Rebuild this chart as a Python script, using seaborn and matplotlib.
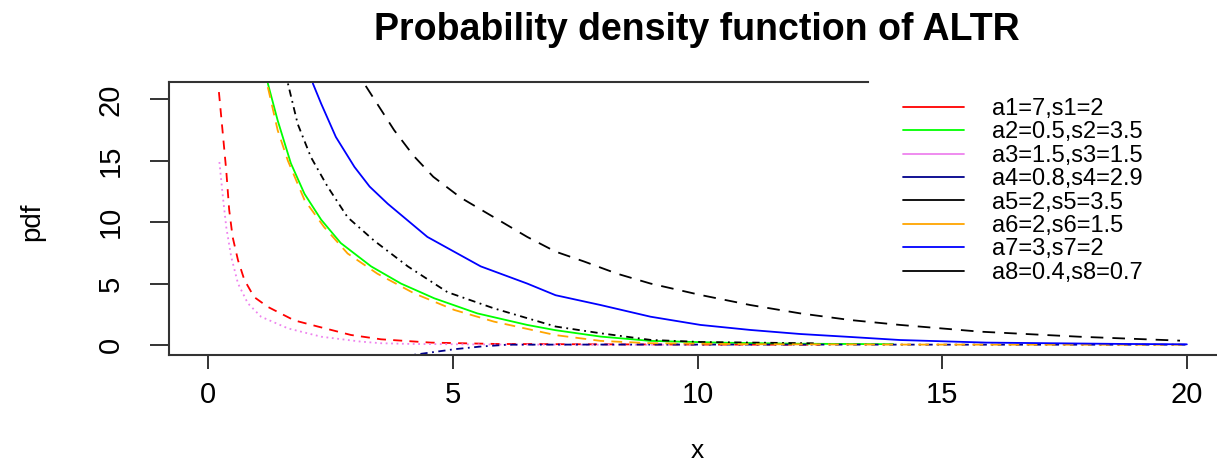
import numpy as np
import matplotlib
matplotlib.use("Agg")
import matplotlib.pyplot as plt
from matplotlib.lines import Line2D
import seaborn as sns

# values
x1 = [0.22, 0.30, 0.37, 0.43, 0.50, 0.61, 0.74, 0.94, 1.22, 1.76, 2.24, 2.92, 3.53, 4.55, 5.9, 8.0, 10.0, 12.5]
y1 = [20.6, 17.2, 14.2, 11.0, 8.8, 6.9, 5.3, 3.9, 3.1, 2.0, 1.5, 0.81, 0.46, 0.19, 0.08, 0.05, 0.03, 0.02]

x2 = [1.22, 1.42, 1.69, 1.97, 2.31, 2.71, 3.33, 3.94, 4.62, 5.50, 6.52, 7.1, 8.02, 9.04, 10.4, 12.0, 14.0]
y2 = [21.3, 18.3, 14.8, 12.3, 10.2, 8.3, 6.4, 5.0, 3.8, 2.57, 1.63, 1.2, 0.68, 0.33, 0.19, 0.1, 0.06]

x3 = [0.23, 0.30, 0.37, 0.47, 0.61, 0.81, 1.08, 1.63, 2.31, 3.12, 3.53, 4.14, 6.0, 8.0, 10.0]
y3 = [14.9, 12.1, 9.6, 7.2, 5.0, 3.4, 2.3, 1.35, 0.67, 0.27, 0.14, 0.08, 0.03, 0.02, 0.01]

x4 = [4.21, 5.03, 5.57, 6.12, 8.0, 12.0, 16.0, 20.0]
y4 = [-0.8, -0.35, -0.13, 0.02, 0.03, 0.03, 0.02, 0.02]

x5 = [1.63, 1.83, 2.10, 2.44, 2.85, 3.39, 4.08, 4.89, 5.84, 7.1, 8.02, 9.04, 10.06, 12.45]
y5 = [21.3, 18.0, 15.3, 12.9, 10.4, 8.5, 6.4, 4.3, 2.98, 1.5, 0.95, 0.41, 0.24, 0.13]

x6 = [1.22, 1.42, 1.63, 1.97, 2.37, 2.85, 3.46, 4.21, 5.03, 5.84, 7.1, 8.02, 9.04, 11.0, 14.0, 17.0, 20.0]
y6 = [21.0, 17.5, 15.0, 11.8, 9.6, 7.45, 5.8, 4.2, 2.85, 1.9, 0.8, 0.33, 0.14, 0.06, 0.03, 0.02, 0.02]

x7 = [2.14, 2.31, 2.61, 2.99, 3.30, 3.67, 4.48, 5.57, 6.52, 7.1, 8.02, 9.04, 10.06, 11.08, 12.1, 13.12, 14.14, 15.9, 18.7, 20.0]
y7 = [21.3, 19.65, 16.94, 14.5, 12.9, 11.5, 8.8, 6.4, 5.0, 4.05, 3.25, 2.3, 1.63, 1.22, 0.89, 0.65, 0.4, 0.19, 0.08, 0.05]

x8 = [3.22, 3.80, 4.20, 4.60, 5.16, 5.84, 6.52, 7.1, 7.68, 8.36, 9.04, 10.06, 11.08, 12.1, 13.12, 14.14, 15.78, 17.8, 19.86]
y8 = [21.1, 17.5, 15.4, 13.7, 12.0, 10.4, 8.8, 7.6, 6.8, 5.8, 5.0, 4.07, 3.25, 2.57, 2.03, 1.63, 1.08, 0.67, 0.35]

labels = ["a1=7,s1=2", "a2=0.5,s2=3.5", "a3=1.5,s3=1.5", "a4=0.8,s4=2.9",
          "a5=2,s5=3.5", "a6=2,s6=1.5", "a7=3,s7=2", "a8=0.4,s8=0.7"]
colors = ["red", "#00ff00", "violet", "#00008b", "black", "orange", "blue", "black"]
styles = [(0, (5, 4)), "-", (0, (1, 2)), (0, (1, 2.5, 4, 2.5)),
          (0, (1, 2.5, 4, 2.5)), (0, (6, 4)), "-", (0, (7, 5))]

xs = [x1, x2, x3, x4, x5, x6, x7, x8]
ys = [y1, y2, y3, y4, y5, y6, y7, y8]

sns.set_style("ticks")
plt.rcParams["font.family"] = ["Liberation Sans", "DejaVu Sans"]
plt.rcParams["text.color"] = "black"
plt.rcParams["xtick.labelcolor"] = "black"
plt.rcParams["ytick.labelcolor"] = "black"
plt.rcParams["axes.labelcolor"] = "black"

W, H = 1217, 465
fig = plt.figure(figsize=(W / 100, H / 100), dpi=100)
ax = fig.add_axes([169 / W, 110 / H, (1226 - 169) / W, (355 - 82) / H])

for xv, yv, c, ls in zip(xs, ys, colors, styles):
    sns.lineplot(x=np.array(xv), y=np.array(yv), color=c, linestyle=ls,
                 linewidth=1.3, estimator=None, ax=ax)

ax.set_xlim(-0.8, 20.8)
ax.set_ylim(-0.82, 21.42)
ax.set_xticks([0, 5, 10, 15, 20])
ax.set_yticks([0, 5, 10, 15, 20])

for s in ax.spines.values():
    s.set_color("#333333")
    s.set_linewidth(1.5)
# legend sits over the top border on the right
ax.spines["top"].set_bounds(-0.8, 13.49)

ax.tick_params(axis="x", length=10, width=1.4, color="#333333", pad=9, labelsize=21)
ax.tick_params(axis="y", length=14, width=1.4, color="#333333", pad=18, labelsize=21)
for t in ax.get_yticklabels():
    t.set_rotation(90)
    t.set_va("center")

ax.set_xlabel("x", fontsize=19)
ax.xaxis.label.set_va("center")
ax.xaxis.set_label_coords(0.5, (355 - 451) / 273)
ax.set_ylabel("pdf", fontsize=20)
ax.yaxis.label.set_va("center")
ax.yaxis.set_label_coords((32 - 169) / 1057, (355 - 222) / 273)

fig.text(697 / W, 1 - 30 / H, "Probability density function of ALTR",
         ha="center", va="center", fontsize=27, fontweight="bold")

handles = [Line2D([0], [0], color=c, lw=1.3) for c in colors]
ax.legend(handles, labels, loc="upper left", bbox_to_anchor=(903 / W, 1 - 98 / H),
          bbox_transform=fig.transFigure, frameon=False, borderpad=0, borderaxespad=0,
          handlelength=2.6, handletextpad=1.15, labelspacing=0.06, fontsize=17)

fig.savefig("out.png", dpi=100)
